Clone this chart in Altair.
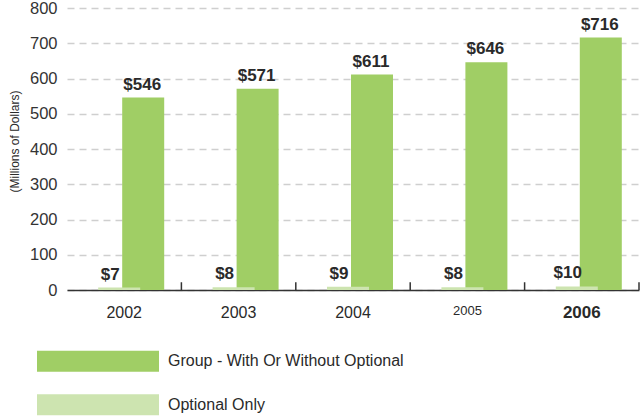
import altair as alt
import pandas as pd

years = ["2002", "2003", "2004", "2005", "2006"]
group_vals = [546, 571, 611, 646, 716]
optional_vals = [7, 8, 9, 8, 10]
series_names = ["Group - With Or Without Optional", "Optional Only"]
y_ticks = [0, 100, 200, 300, 400, 500, 600, 700, 800]

DARK = "#a0ce65"
LIGHT = "#cde4b0"
TXT = "#2a2a2a"
LABEL_FONT = "Liberation Sans"

W, H = 572, 282
BAND = W / len(years)

df = pd.DataFrame({
    "year": years,
    "group": group_vals,
    "optional": optional_vals,
})
df["group_label"] = ["$" + str(v) for v in group_vals]
df["optional_label"] = ["$" + str(v) for v in optional_vals]

x_axis = alt.Axis(
    title=None,
    labelAngle=0,
    ticks=False,
    labelPadding=14,
    labelColor=TXT,
    labelFont="Liberation Sans",
    labelFontSize={"expr": "datum.value == '2005' ? 13 : (datum.value == '2006' ? 17 : 16)"},
    labelFontWeight={"expr": "datum.value == '2006' ? 'bold' : 'normal'"},
    domainColor="#333333",
    domainWidth=1.5,
    grid=False,
)
x_scale = alt.Scale(paddingInner=0, paddingOuter=0)
y_scale = alt.Scale(domain=[0, 800], nice=False)
y_axis = alt.Axis(
    title="(Millions of Dollars)",
    titleFont="Liberation Sans",
    titleFontSize=12,
    titleFontWeight="normal",
    titleColor=TXT,
    titlePadding=8,
    titleY=133,
    values=y_ticks,
    tickCount=9,
    labelOverlap=False,
    labelFont="Liberation Sans",
    labelFontSize=16.5,
    labelColor="#333333",
    labelPadding=10,
    ticks=False,
    domain=False,
    grid=True,
    gridColor="#cfcfcf",
    gridDash=[7, 5],
    gridWidth=1.5,
)


def X():
    return alt.X("year:N", sort=years, scale=x_scale, axis=x_axis)


def Y(field):
    return alt.Y(field, scale=y_scale, axis=y_axis)


base = alt.Chart(df)

dark_bars = base.mark_bar(size=42, xOffset=19, color=DARK).encode(
    x=X(), y=Y("group:Q"),
)
light_bars = base.mark_bar(size=42, xOffset=-5, color=LIGHT).encode(
    x=X(), y=Y("optional:Q"),
)
dark_text = base.mark_text(
    xOffset=18, dy=-4, baseline="bottom", font=LABEL_FONT, fontWeight="bold",
    fontSize=17, color=TXT,
).encode(
    x=X(), y=Y("group:Q"), text="group_label:N",
)
light_text = base.mark_text(
    xOffset=-14, dy=-4, baseline="bottom", font=LABEL_FONT, fontWeight="bold",
    fontSize=17, color=TXT,
).encode(
    x=X(), y=Y("optional:Q"), text="optional_label:N",
)
tick_rules = base.mark_rule(xOffset=BAND / 2, color="#333333", strokeWidth=1.5).encode(
    x=X(),
    y=alt.YDatum(0, scale=y_scale, axis=y_axis),
    y2=alt.datum(22),
)

main = alt.layer(dark_bars, light_bars, tick_rules, dark_text, light_text).properties(
    width=W, height=H
)

leg_df = pd.DataFrame({"series": series_names, "color": [DARK, LIGHT]})
leg_y = alt.Y(
    "series:N", sort=series_names, axis=None,
    scale=alt.Scale(type="point", padding=0.26),
)
leg_swatch = alt.Chart(leg_df).mark_rule(strokeWidth=21).encode(
    y=leg_y,
    x=alt.value(-30),
    x2=alt.value(92),
    color=alt.Color("color:N", scale=None, legend=None),
)
leg_text = alt.Chart(leg_df).mark_text(
    align="left", baseline="middle", font="Liberation Sans", fontSize=16, color=TXT,
).encode(
    y=leg_y,
    x=alt.value(101),
    text="series:N",
)
legend = alt.layer(leg_swatch, leg_text).properties(width=W, height=66)

chart = (
    alt.vconcat(main, legend, spacing=30)
    .properties(padding={"left": 8, "top": 0, "right": 0, "bottom": 0})
    .configure(background="white")
    .configure_view(stroke=None)
)

chart.save("out.html", embed_options={"renderer": "svg", "actions": False})
